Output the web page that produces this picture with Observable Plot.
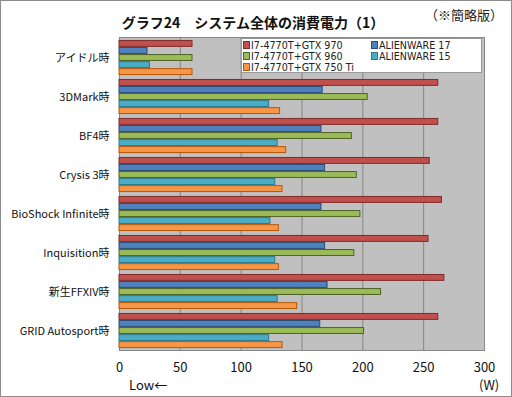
<!DOCTYPE html>
<html><head><meta charset="utf-8">
<script src="https://cdn.jsdelivr.net/npm/d3@7"></script>
<script src="https://cdn.jsdelivr.net/npm/@observablehq/plot@0.6"></script>
<style>
body{margin:0;background:#fff;}
#wrap{position:relative;width:512px;height:397px;overflow:hidden;font-family:"Noto Sans CJK JP","DejaVu Sans",sans-serif;}
#border{position:absolute;left:0;top:0;width:512px;height:397px;box-sizing:border-box;border:1px solid #8c8c8c;pointer-events:none;}
#title{position:absolute;left:0;width:506px;top:12px;text-align:center;font-size:14px;font-weight:bold;color:#111;}
#note{position:absolute;right:9px;top:5px;font-size:13px;color:#222;}
#legend{position:absolute;left:241px;top:38px;width:241px;height:35px;box-sizing:border-box;background:#fff;border:1px solid #999;font-family:"DejaVu Sans",sans-serif;font-size:9.6px;color:#222;}
.li{position:absolute;white-space:nowrap;line-height:11px;}
.sw{display:inline-block;width:5px;height:6px;border:1px solid;margin-right:1px;vertical-align:0px;}
#low{position:absolute;left:129px;top:375px;font-size:13px;color:#111;}
#unit{position:absolute;left:479px;top:375px;font-size:13px;color:#111;}
</style></head>
<body><div id="wrap"><div id="chart"></div>
<div id="title">グラフ24　システム全体の消費電力（1）</div>
<div id="note">（※簡略版）</div>
<div id="legend"></div>
<div id="low">Low←</div>
<div id="unit">(W)</div>
<div id="border"></div></div>
<script>
const categories = ["アイドル時","3DMark時","BF4時","Crysis 3時","BioShock Infinite時","Inquisition時","新生FFXIV時","GRID Autosport時"];
const seriesNames = ["I7-4770T+GTX 970","ALIENWARE 17","I7-4770T+GTX 960","ALIENWARE 15","I7-4770T+GTX 750 Ti"];
const gtx970   = [60, 262, 262, 255, 265, 254, 267, 262];
const aw17     = [23, 167, 166, 169, 166, 169, 171, 165];
const gtx960   = [60, 204, 191, 195, 198, 193, 215, 201];
const aw15     = [25, 123, 130, 128, 124, 128, 130, 123];
const gtx750ti = [60, 132, 137, 134, 131, 131, 146, 134];
const xTicks = [0, 50, 100, 150, 200, 250, 300];
const fills   = ["#c0504d","#4f81bd","#9bbb59","#4bacc6","#f79646"];
const strokes = ["#7f2a27","#2c4d75","#4f6228","#2e7a8e","#b65708"];
const seriesValues = [gtx970, aw17, gtx960, aw15, gtx750ti];

const W = 512, H = 397, mt = 37, mb = 47, ml = 119, mr = 28;
const step = (H - mt - mb) / categories.length;
const pad = step * 0.05;
const barH = (step - 2 * pad) / seriesNames.length;

const barMarks = seriesNames.map((name, i) => {
  const data = categories.map((c, j) => ({category: c, value: seriesValues[i][j]}));
  return Plot.barX(data, {
    x: "value", y: "category",
    fill: fills[i], stroke: strokes[i], strokeWidth: 1,
    insetTop: pad + i * barH + 0.5,
    insetBottom: step - pad - (i + 1) * barH + 0.5
  });
});

const chart = Plot.plot({
  width: W, height: H,
  marginTop: mt, marginBottom: mb, marginLeft: ml, marginRight: mr,
  style: {fontFamily: "'Noto Sans CJK JP','DejaVu Sans',sans-serif", background: "transparent", overflow: "visible"},
  x: {domain: [0, 300], ticks: xTicks, label: null},
  y: {domain: categories, padding: 0, label: null},
  marks: [
    Plot.frame({fill: "#c0c0c0", stroke: "#888", strokeWidth: 1}),
    Plot.gridX(xTicks.slice(1, -1), {stroke: "#858585", strokeOpacity: 1, strokeWidth: 1}),
    Plot.ruleX([0], {stroke: "#888"}),
    ...barMarks,
    Plot.axisX({ticks: xTicks, tickSize: 0, tickPadding: 12, fontSize: 13, fill: "#111", label: null}),
    Plot.axisY({tickSize: 0, tickPadding: 10, fontSize: 11, fill: "#111", label: null})
  ]
});
document.getElementById("chart").appendChild(chart);

const pos = [[0,1,0.5],[2,1,11.5],[4,1,22.5],[1,129,0.5],[3,129,11.5]];
const lg = document.getElementById("legend");
pos.forEach(([i, x, y]) => {
  const d = document.createElement("div");
  d.className = "li";
  d.style.left = x + "px"; d.style.top = y + "px";
  d.innerHTML = `<span class="sw" style="background:${fills[i]};border-color:${strokes[i]}"></span>${seriesNames[i]}`;
  lg.appendChild(d);
});
</script></body></html>
